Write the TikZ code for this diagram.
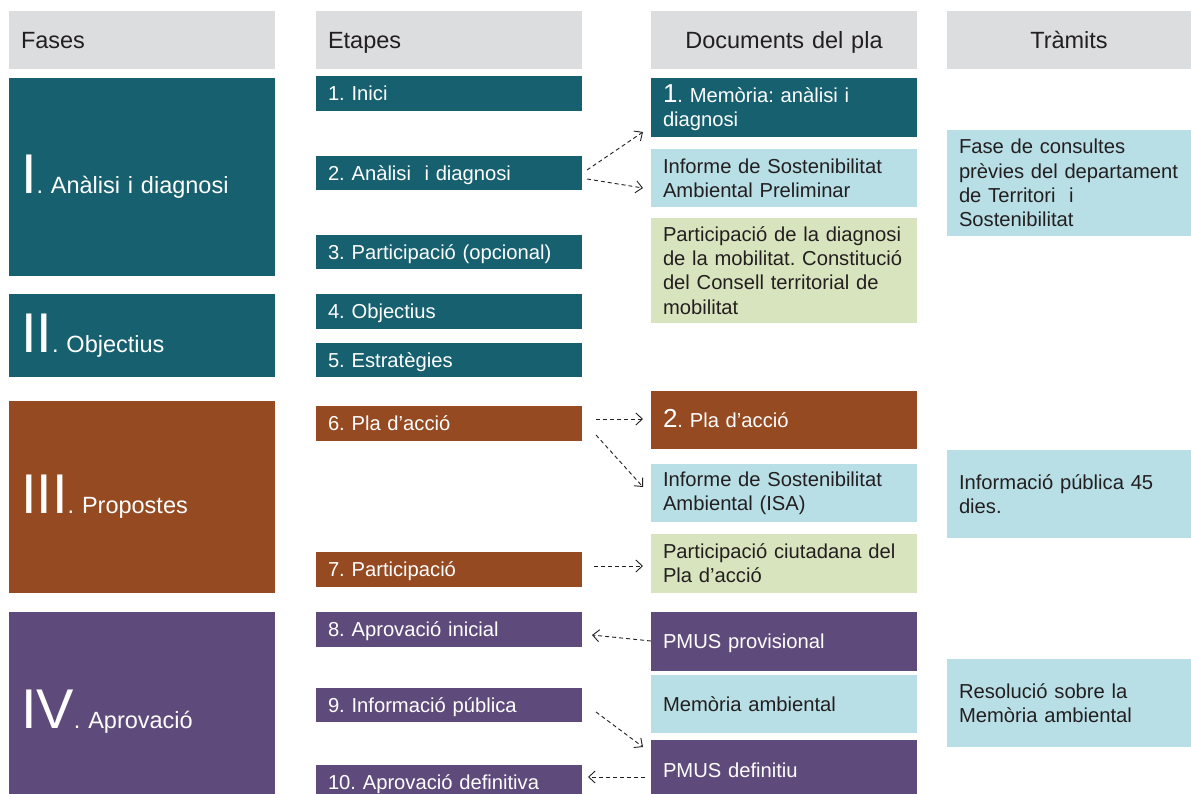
\documentclass[tikz,border=0pt]{standalone}
\usepackage{fontspec}
\setmainfont{Liberation Sans}
\usetikzlibrary{arrows.meta}
\definecolor{cteal}{HTML}{17606F}
\definecolor{cbrown}{HTML}{964A22}
\definecolor{cpurple}{HTML}{5F4B7B}
\definecolor{clblue}{HTML}{B8DFE6}
\definecolor{clgreen}{HTML}{D8E4BD}
\definecolor{cgrey}{HTML}{DCDDDF}
\definecolor{ctext}{HTML}{231F20}
\newcommand\bignum[1]{{\fontsize{56}{56}\selectfont #1}}
\newcommand\midnum[1]{{\fontsize{26}{26}\selectfont #1}}
\frenchspacing
\begin{document}
\frenchspacing
\begin{tikzpicture}[x=1pt,y=-1pt,
  every node/.style={outer sep=0pt, inner ysep=0pt, inner xsep=12pt, anchor=north west, align=left},
  col/.style={minimum width=266pt, text width=242pt},
  tcol/.style={minimum width=244pt, text width=220pt},
  hdr/.style={fill=cgrey, minimum height=58pt, text=ctext, text height=17pt, text depth=0pt, font=\fontsize{23.5}{28}\selectfont},
  phase/.style={col, text=white, font=\fontsize{23.5}{28}\selectfont},
  one/.style={text height=14.4pt, text depth=0pt},
  stage/.style={col, one, minimum height=35pt, text=white, font=\fontsize{20.2}{24.3}\selectfont},
  doc/.style={col, font=\fontsize{20.2}{24.3}\selectfont},
  tram/.style={tcol, fill=clblue, text=ctext, font=\fontsize{20.2}{24.3}\selectfont},
  arr/.style={draw=ctext, line width=0.9pt, dash pattern=on 4pt off 3pt, -{Straight Barb[length=6.5pt,width=12pt,line width=0.9pt]}}
]
\useasboundingbox (0,0) rectangle (1191,794);
\fill[white] (0,0) rectangle (1191,794);
\clip (0,0) rectangle (1191,794);

% headers
\node[hdr, col] (hfases) at (9,11) {Fases};
\node[hdr, col] (hetapes) at (316,11) {Etapes};
\node[hdr, col, align=center] (hdocs) at (651,11) {Documents del pla};
\node[hdr, tcol, align=center] (htram) at (947,11) {Tràmits};

% phases
\node[phase, fill=cteal, minimum height=198pt] (p1) at (9,78) {\bignum{I}. Anàlisi i diagnosi};
\node[phase, fill=cteal, minimum height=83pt] (p2) at (9,294) {\bignum{II}. Objectius};
\node[phase, fill=cbrown, minimum height=192pt] (p3) at (9,401) {\bignum{III}. Propostes};
\node[phase, fill=cpurple, minimum height=200pt] (p4) at (9,612) {\bignum{IV}. Aprovació};

% stages
\node[stage, fill=cteal] (e1) at (316,76) {1. Inici};
\node[stage, fill=cteal, minimum height=34pt] (e2) at (316,156) {2.\ Anàlisi\ \ i diagnosi};
\node[stage, fill=cteal, minimum height=34pt] (e3) at (316,235) {3. Participació (opcional)};
\node[stage, fill=cteal] (e4) at (316,294) {4. Objectius};
\node[stage, fill=cteal, minimum height=34pt] (e5) at (316,343) {5. Estratègies};
\node[stage, fill=cbrown] (e6) at (316,406) {6. Pla d’acció};
\node[stage, fill=cbrown] (e7) at (316,552) {7. Participació};
\node[stage, fill=cpurple] (e8) at (316,612) {8. Aprovació inicial};
\node[stage, fill=cpurple, minimum height=34pt] (e9) at (316,688) {9. Informació pública};
\node[stage, fill=cpurple] (e10) at (316,765) {10. Aprovació definitiva};

% documents
\node[doc, fill=cteal, text=white, minimum height=59pt] (mem1) at (651,78) {\midnum{1}. Memòria: anàlisi i\\diagnosi};
\node[doc, fill=clblue, text=ctext, minimum height=58pt] (isap) at (651,149) {Informe de Sostenibilitat\\Ambiental Preliminar};
\node[doc, fill=clgreen, text=ctext, minimum height=105pt] (partd) at (651,218) {Participació de la diagnosi\\de la mobilitat. Constitució\\del Consell territorial de\\mobilitat};
\node[doc, one, fill=cbrown, text=white, minimum height=58pt] (pla2) at (651,391) {\midnum{2}. Pla d’acció};
\node[doc, fill=clblue, text=ctext, minimum height=58pt] (isa) at (651,464) {Informe de Sostenibilitat\\Ambiental (ISA)};
\node[doc, fill=clgreen, text=ctext, minimum height=59pt] (partc) at (651,534) {Participació ciutadana del\\Pla d’acció};
\node[doc, one, fill=cpurple, text=white, minimum height=59pt] (pmusp) at (651,612) {PMUS provisional};
\node[doc, one, fill=clblue, text=ctext, minimum height=58pt] (memamb) at (651,675) {Memòria ambiental};
\node[doc, one, fill=cpurple, text=white, minimum height=60pt] (pmusd) at (651,740) {PMUS definitiu};

% tramits
\node[tram, minimum height=106pt] (consult) at (947,130) {Fase de consultes\\prèvies del departament\\de Territori\ \ i\\Sostenibilitat};
\node[tram, minimum height=88pt] (infopub) at (947,450) {Informació pública 45\\dies.};
\node[tram, minimum height=88pt] (resol) at (947,659) {Resolució sobre la\\Memòria ambiental};

% arrows
\draw[arr] ([xshift=5pt,yshift=3pt]e2.east) -- ([xshift=-8pt,yshift=5pt]mem1.south west);
\draw[arr] ([xshift=5pt,yshift=-6pt]e2.east) -- ([xshift=-8pt,yshift=-10pt]isap.west);
\draw[arr] ([xshift=14pt,yshift=4.5pt]e6.east) -- ([xshift=-8pt,yshift=1pt]pla2.west);
\draw[arr] ([xshift=14pt,yshift=-11.5pt]e6.east) -- ([xshift=-8pt,yshift=6pt]isa.west);
\draw[arr] ([xshift=12pt,yshift=3.5pt]e7.east) -- ([xshift=-8pt,yshift=-2.5pt]partc.west);
\draw[arr] ([yshift=0.5pt]pmusp.west) -- ([xshift=10pt,yshift=-5.5pt]e8.east);
\draw[arr] ([xshift=14pt,yshift=-7pt]e9.east) -- ([xshift=-8pt,yshift=-7pt]pmusd.north west);
\draw[arr] ([xshift=-6pt,yshift=-7pt]pmusd.west) -- ([xshift=6pt,yshift=5.5pt]e10.east);
\end{tikzpicture}
\end{document}
